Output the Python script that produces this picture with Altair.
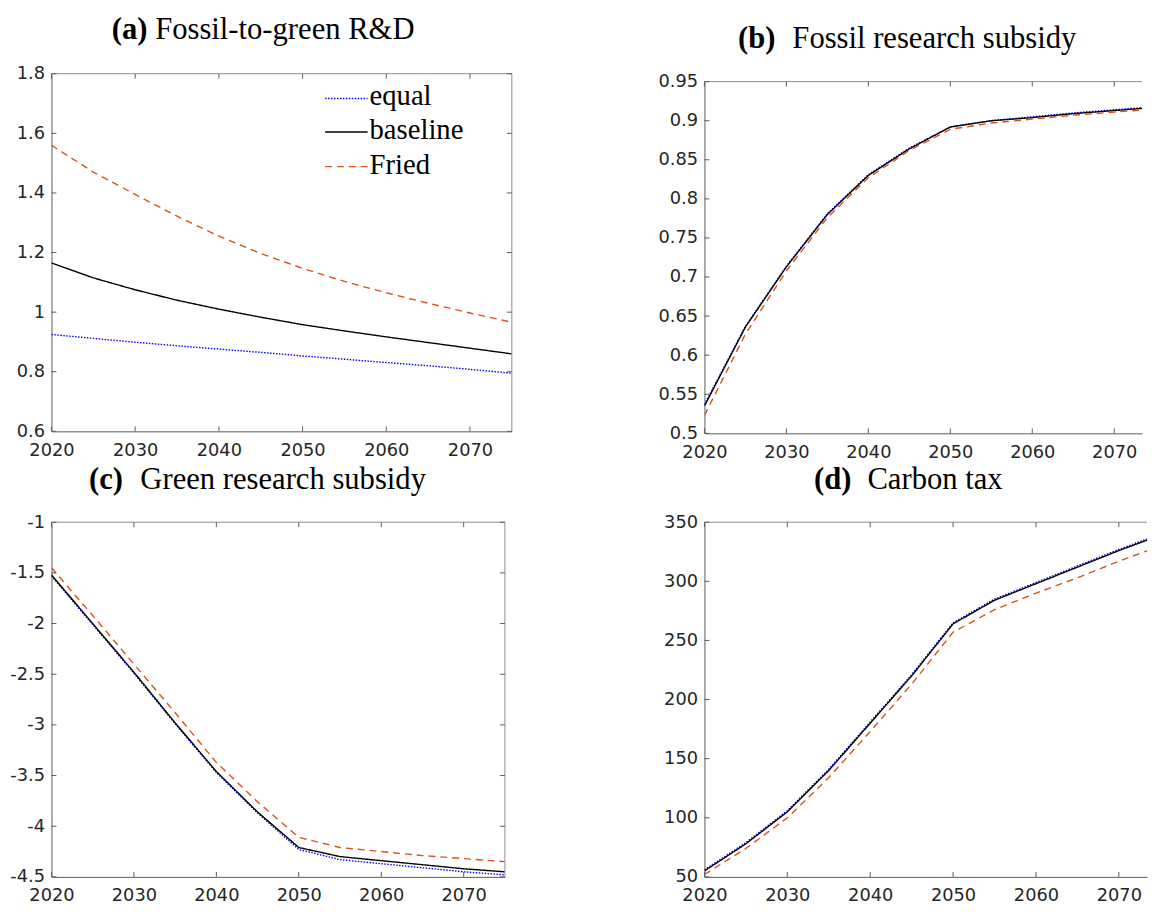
import altair as alt
import pandas as pd

years = [2020, 2025, 2030, 2035, 2040, 2045, 2050, 2055, 2060, 2065, 2070, 2075]
series_names = ["equal", "baseline", "Fried"]
series_colors = ["#0000FF", "#000000", "#D95319"]
series_dashes = [[1.5, 1.5], [1, 0], [7, 5]]

# (a) Fossil-to-green R&D
a_equal = [0.925, 0.912, 0.899, 0.887, 0.876, 0.865, 0.853, 0.842, 0.831, 0.820, 0.808, 0.795]
a_baseline = [1.165, 1.115, 1.075, 1.040, 1.010, 0.983, 0.958, 0.937, 0.917, 0.898, 0.879, 0.860]
a_fried = [1.560, 1.470, 1.395, 1.322, 1.255, 1.197, 1.147, 1.103, 1.065, 1.030, 0.997, 0.966]
# (b) Fossil research subsidy
b_equal = [0.537, 0.637, 0.714, 0.781, 0.831, 0.865, 0.892, 0.900, 0.905, 0.910, 0.914, 0.918]
b_baseline = [0.535, 0.636, 0.713, 0.780, 0.830, 0.864, 0.892, 0.900, 0.904, 0.909, 0.913, 0.917]
b_fried = [0.523, 0.627, 0.708, 0.776, 0.827, 0.862, 0.889, 0.897, 0.902, 0.907, 0.911, 0.915]
# (c) Green research subsidy
c_equal = [-1.53, -2.01, -2.49, -2.99, -3.47, -3.87, -4.23, -4.33, -4.37, -4.41, -4.45, -4.48]
c_baseline = [-1.52, -2.00, -2.48, -2.98, -3.46, -3.86, -4.21, -4.30, -4.34, -4.38, -4.42, -4.45]
c_fried = [-1.45, -1.92, -2.40, -2.88, -3.37, -3.76, -4.11, -4.21, -4.25, -4.29, -4.32, -4.35]
# (d) Carbon tax
d_equal = [56, 79, 106, 141, 181, 221, 265, 285, 299, 313, 327, 340]
d_baseline = [55, 78, 105, 140, 180, 220, 264, 284, 298, 312, 326, 339]
d_fried = [52, 74, 100, 134, 173, 213, 257, 276, 290, 303, 317, 330]

x_ticks = [2020, 2030, 2040, 2050, 2060, 2070]
a_yticks = [0.6, 0.8, 1, 1.2, 1.4, 1.6, 1.8]
b_yticks = [0.5, 0.55, 0.6, 0.65, 0.7, 0.75, 0.8, 0.85, 0.9, 0.95]
c_yticks = [-4.5, -4, -3.5, -3, -2.5, -2, -1.5, -1]
d_yticks = [50, 100, 150, 200, 250, 300, 350]

tags = ["(a)", "(b)", "(c)", "(d)"]
titles = ["Fossil-to-green R&D", "Fossil research subsidy", "Green research subsidy", "Carbon tax"]

AX = "#5a5a5a"
FRAME = "#8c8c8c"
LBL = "#262626"
TICK_FONT = "DejaVu Sans"
SERIF = "Liberation Serif"
TICK_FS = 18
TITLE_FS = 31
LEG_FS = 29

one = pd.DataFrame({"k": [0]})


def long_df(eq, base, fried):
    rows = []
    for name, vals in zip(series_names, [eq, base, fried]):
        for yr, v in zip(years, vals):
            rows.append({"year": yr, "value": v, "series": name})
    return pd.DataFrame(rows)


def panel(eq, base, fried, ydom, yticks, xmax, w, h, k, tag_x, text_x,
          top=0, title_gap=34, legend=False, box_right=True):
    """top: the plot area starts this many pixels below the top of the panel."""
    df = long_df(eq, base, fried)
    xenc = alt.X("year:Q", scale=alt.Scale(domain=[2020, xmax], nice=False, zero=False),
                 axis=alt.Axis(values=x_ticks, format="d", title=None, grid=False, ticks=False,
                               tickSize=0, domainColor=AX, domainWidth=1, labelFont=TICK_FONT,
                               labelFontSize=TICK_FS, labelColor=LBL, labelPadding=10,
                               labelFlush=False, labelOverlap=False))
    yenc = alt.Y("value:Q", scale=alt.Scale(domain=ydom, range=[h, top], nice=False, zero=False),
                 axis=alt.Axis(values=yticks, labelExpr="'' + datum.value", title=None, grid=False,
                               ticks=False, tickSize=0, domainColor=AX, domainWidth=1,
                               labelFont=TICK_FONT, labelFontSize=TICK_FS, labelColor=LBL,
                               labelPadding=7, labelFlush=False, labelOverlap=False))
    cenc = alt.Color("series:N", scale=alt.Scale(domain=series_names, range=series_colors),
                     legend=None)
    denc = alt.StrokeDash("series:N", scale=alt.Scale(domain=series_names, range=series_dashes),
                          legend=None)
    layers = []
    for name in series_names:
        layers.append(
            alt.Chart(df).transform_filter(alt.datum.series == name)
            .mark_line(clip=True, strokeWidth=1.4)
            .encode(x=xenc, y=yenc, color=cenc, strokeDash=denc)
        )
    # frame: top (and right) border
    layers.append(alt.Chart(one).mark_rule(color=FRAME, strokeWidth=1)
                  .encode(x=alt.value(0), x2=alt.value(w), y=alt.value(top)))
    if box_right:
        layers.append(alt.Chart(one).mark_rule(color=FRAME, strokeWidth=1)
                      .encode(x=alt.value(w), y=alt.value(top), y2=alt.value(h)))
    # inside ticks
    xt = pd.DataFrame({"year": x_ticks})
    layers.append(alt.Chart(xt).mark_rule(color=AX, strokeWidth=1)
                  .encode(x=xenc, y=alt.value(h), y2=alt.value(h - 5)))
    layers.append(alt.Chart(xt).mark_rule(color=AX, strokeWidth=1)
                  .encode(x=xenc, y=alt.value(top), y2=alt.value(top + 5)))
    yt = pd.DataFrame({"value": yticks})
    layers.append(alt.Chart(yt).mark_rule(color=AX, strokeWidth=1)
                  .encode(y=yenc, x=alt.value(0), x2=alt.value(5)))
    if box_right:
        layers.append(alt.Chart(yt).mark_rule(color=AX, strokeWidth=1)
                      .encode(y=yenc, x=alt.value(w - 5), x2=alt.value(w)))
    # legend (upper right of the panel)
    if legend:
        row_y = [25, 59, 94]
        for i, name in enumerate(series_names):
            rule_kw = dict(color=series_colors[i], strokeWidth=1.4)
            if name != "baseline":
                rule_kw["strokeDash"] = series_dashes[i]
            layers.append(alt.Chart(one).mark_rule(**rule_kw)
                          .encode(x=alt.value(277), x2=alt.value(320),
                                  y=alt.value(top + row_y[i])))
            layers.append(alt.Chart(one).mark_text(text=name, font=SERIF, fontSize=LEG_FS,
                                                   align="left", baseline="middle",
                                                   color="#000000")
                          .encode(x=alt.value(322), y=alt.value(top + row_y[i] - 2)))
    # panel title
    layers.append(alt.Chart(one).mark_text(text=tags[k], font=SERIF, fontSize=TITLE_FS,
                                           fontWeight="bold", align="left", baseline="alphabetic",
                                           color="#000000")
                  .encode(x=alt.value(tag_x), y=alt.value(top - title_gap)))
    layers.append(alt.Chart(one).mark_text(text=titles[k], font=SERIF, fontSize=TITLE_FS,
                                           align="left", baseline="alphabetic", color="#000000")
                  .encode(x=alt.value(text_x), y=alt.value(top - title_gap)))
    return alt.layer(*layers).properties(width=w, height=h)


pa = panel(a_equal, a_baseline, a_fried, [0.6, 1.8], a_yticks, 2075, 466, 362, 0, 61, 105,
           title_gap=35, legend=True)
pb = panel(b_equal, b_baseline, b_fried, [0.5, 0.95], b_yticks, 2073.4, 443, 364, 1, 34, 89,
           top=8, box_right=False)
pc = panel(c_equal, c_baseline, c_fried, [-4.5, -1], c_yticks, 2075, 459, 359, 2, 38, 90)
pd_ = panel(d_equal, d_baseline, d_fried, [50, 350], d_yticks, 2073.4, 448, 359, 3, 111, 165,
            box_right=False)

col1 = alt.vconcat(pa, pc, spacing=3)
col2 = alt.vconcat(pb, pd_, spacing=1)

chart = (
    alt.hconcat(col1, col2, spacing=146)
    .properties(padding={"left": 1, "top": 0, "right": 0, "bottom": 0}, background="#ffffff")
    .configure_view(stroke="transparent")
)

chart.save("out.html", embed_options={"renderer": "svg", "actions": False})
